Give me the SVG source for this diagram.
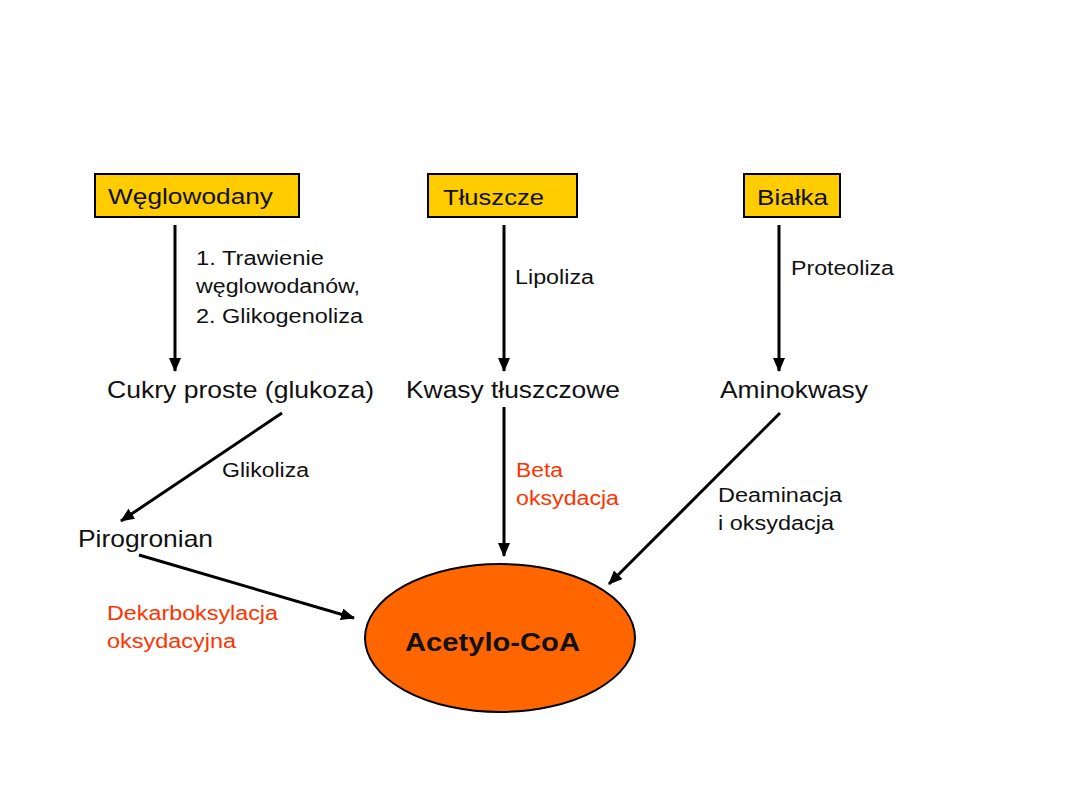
<svg xmlns="http://www.w3.org/2000/svg" width="1080" height="810" viewBox="0 0 1080 810">
<style>
.t{font-family:"Liberation Sans",Arial,sans-serif;fill:#111}
.main{font-size:24px}
.box{font-size:22px}
.lab{font-size:20px}
.red{fill:#FF3300}
.bx{fill:#FFCC00;stroke:#000;stroke-width:2}
.c{stroke:#000;stroke-width:3;fill:none;marker-end:url(#ah)}
</style>
<defs>
<marker id="ah" markerUnits="userSpaceOnUse" markerWidth="14" markerHeight="12" refX="13" refY="6" orient="auto">
<path d="M0,0 L14,6 L0,12 Z" fill="#000"/>
</marker>
</defs>
<rect width="1080" height="810" fill="#fff"/>
<g id="n-weglowodany"><rect class="bx" x="95" y="174" width="204" height="43"/><text class="t box" x="108" y="204" textLength="165" lengthAdjust="spacingAndGlyphs">Węglowodany</text></g>
<g id="n-tluszcze"><rect class="bx" x="428" y="174" width="149" height="43"/><text class="t box" x="443" y="205" textLength="101" lengthAdjust="spacingAndGlyphs">Tłuszcze</text></g>
<g id="n-bialka"><rect class="bx" x="744" y="174" width="96" height="43"/><text class="t box" x="757" y="205" textLength="71" lengthAdjust="spacingAndGlyphs">Białka</text></g>
<g id="n-cukry"><text class="t main" x="107" y="398" textLength="267" lengthAdjust="spacingAndGlyphs">Cukry proste (glukoza)</text></g>
<g id="n-kwasy"><text class="t main" x="406" y="398" textLength="214" lengthAdjust="spacingAndGlyphs">Kwasy tłuszczowe</text></g>
<g id="n-aminokwasy"><text class="t main" x="720" y="398" textLength="148" lengthAdjust="spacingAndGlyphs">Aminokwasy</text></g>
<g id="n-pirogronian"><text class="t main" x="78" y="547" textLength="135" lengthAdjust="spacingAndGlyphs">Pirogronian</text></g>
<g id="n-acetylo"><ellipse cx="500" cy="638" rx="135" ry="74" fill="#FF6600" stroke="#000" stroke-width="2"/><text class="t" x="405" y="651" font-size="25" font-weight="bold" textLength="175" lengthAdjust="spacingAndGlyphs">Acetylo-CoA</text></g>
<g id="connectors">
<line class="c" x1="175" y1="225" x2="175" y2="371"/>
<line class="c" x1="504" y1="225" x2="504" y2="371"/>
<line class="c" x1="779" y1="225" x2="779" y2="371"/>
<line class="c" x1="282" y1="413" x2="121" y2="521"/>
<line class="c" x1="139" y1="555" x2="354" y2="618"/>
<line class="c" x1="504" y1="407" x2="504" y2="556"/>
<line class="c" x1="780" y1="413" x2="609" y2="584"/>
</g>
<g id="labels">
<text class="t lab" x="196" y="265" textLength="128" lengthAdjust="spacingAndGlyphs">1. Trawienie</text>
<text class="t lab" x="196" y="293" textLength="164" lengthAdjust="spacingAndGlyphs">węglowodanów,</text>
<text class="t lab" x="196" y="323" textLength="167" lengthAdjust="spacingAndGlyphs">2. Glikogenoliza</text>
<text class="t lab" x="515" y="284" textLength="79" lengthAdjust="spacingAndGlyphs">Lipoliza</text>
<text class="t lab" x="791" y="275" textLength="103" lengthAdjust="spacingAndGlyphs">Proteoliza</text>
<text class="t lab" x="222" y="477" textLength="87" lengthAdjust="spacingAndGlyphs">Glikoliza</text>
<text class="t lab red" x="516" y="477" textLength="47" lengthAdjust="spacingAndGlyphs">Beta</text>
<text class="t lab red" x="516" y="505" textLength="103" lengthAdjust="spacingAndGlyphs">oksydacja</text>
<text class="t lab" x="718" y="502" textLength="124" lengthAdjust="spacingAndGlyphs">Deaminacja</text>
<text class="t lab" x="718" y="530" textLength="116" lengthAdjust="spacingAndGlyphs">i oksydacja</text>
<text class="t lab red" x="107" y="620" textLength="171" lengthAdjust="spacingAndGlyphs">Dekarboksylacja</text>
<text class="t lab red" x="107" y="648" textLength="129" lengthAdjust="spacingAndGlyphs">oksydacyjna</text>
</g>
</svg>
